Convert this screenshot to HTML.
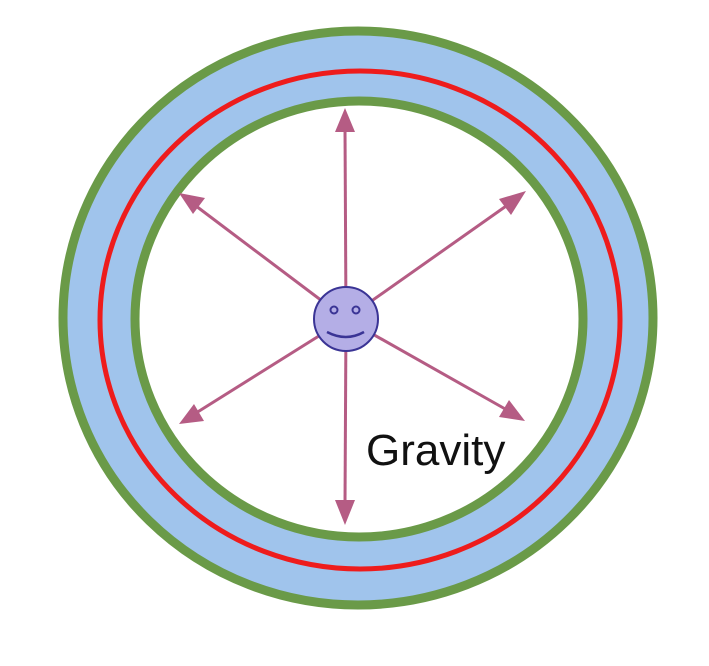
<!DOCTYPE html>
<html><head><meta charset="utf-8"><style>
html,body{margin:0;padding:0;background:#fff;width:709px;height:666px;overflow:hidden}
</style></head><body>
<svg width="709" height="666" viewBox="0 0 709 666" xmlns="http://www.w3.org/2000/svg">
<defs>
<marker id="a" markerWidth="8" markerHeight="8" refX="6" refY="4" orient="auto" markerUnits="userSpaceOnUse" viewBox="0 0 8 8">
</marker>
</defs>
<ellipse cx="358" cy="318" rx="295" ry="287" fill="#a0c4ec" stroke="#6a9a48" stroke-width="9"/>
<ellipse cx="360" cy="320" rx="260" ry="249" fill="none" stroke="#ee1c1c" stroke-width="5"/>
<ellipse cx="359" cy="319" rx="224" ry="218" fill="#fff" stroke="#6a9a48" stroke-width="9"/>
<g stroke="#b55c84" stroke-width="3" fill="#b55c84">
<line x1="346" y1="319" x2="345" y2="128"/>
<polygon points="345,108 335,132 355,132" stroke="none"/>
<line x1="346" y1="319" x2="345" y2="505"/>
<polygon points="345,525 335,500 355,500" stroke="none"/>
<line x1="346" y1="319" x2="196" y2="206"/>
<polygon points="179,193 193,214 205,198" stroke="none"/>
<line x1="346" y1="319" x2="509" y2="204"/>
<polygon points="526,191 499,199 511,215" stroke="none"/>
<line x1="346" y1="319" x2="196" y2="413"/>
<polygon points="179,424 204,421 194,404" stroke="none"/>
<line x1="346" y1="319" x2="507" y2="410"/>
<polygon points="525,421 509,400 499,417" stroke="none"/>
</g>
<circle cx="346" cy="319" r="32" fill="#b4aee6" stroke="#3a3495" stroke-width="2"/>
<circle cx="334" cy="310" r="3.5" fill="none" stroke="#3a3495" stroke-width="2"/>
<circle cx="356" cy="310" r="3.5" fill="none" stroke="#3a3495" stroke-width="2"/>
<path d="M327 332 Q346 342 364 332" fill="none" stroke="#3a3495" stroke-width="2.5"/>
<text x="366" y="465" font-family="Liberation Sans, sans-serif" font-size="44" fill="#111">Gravity</text>
</svg>
</body></html>
